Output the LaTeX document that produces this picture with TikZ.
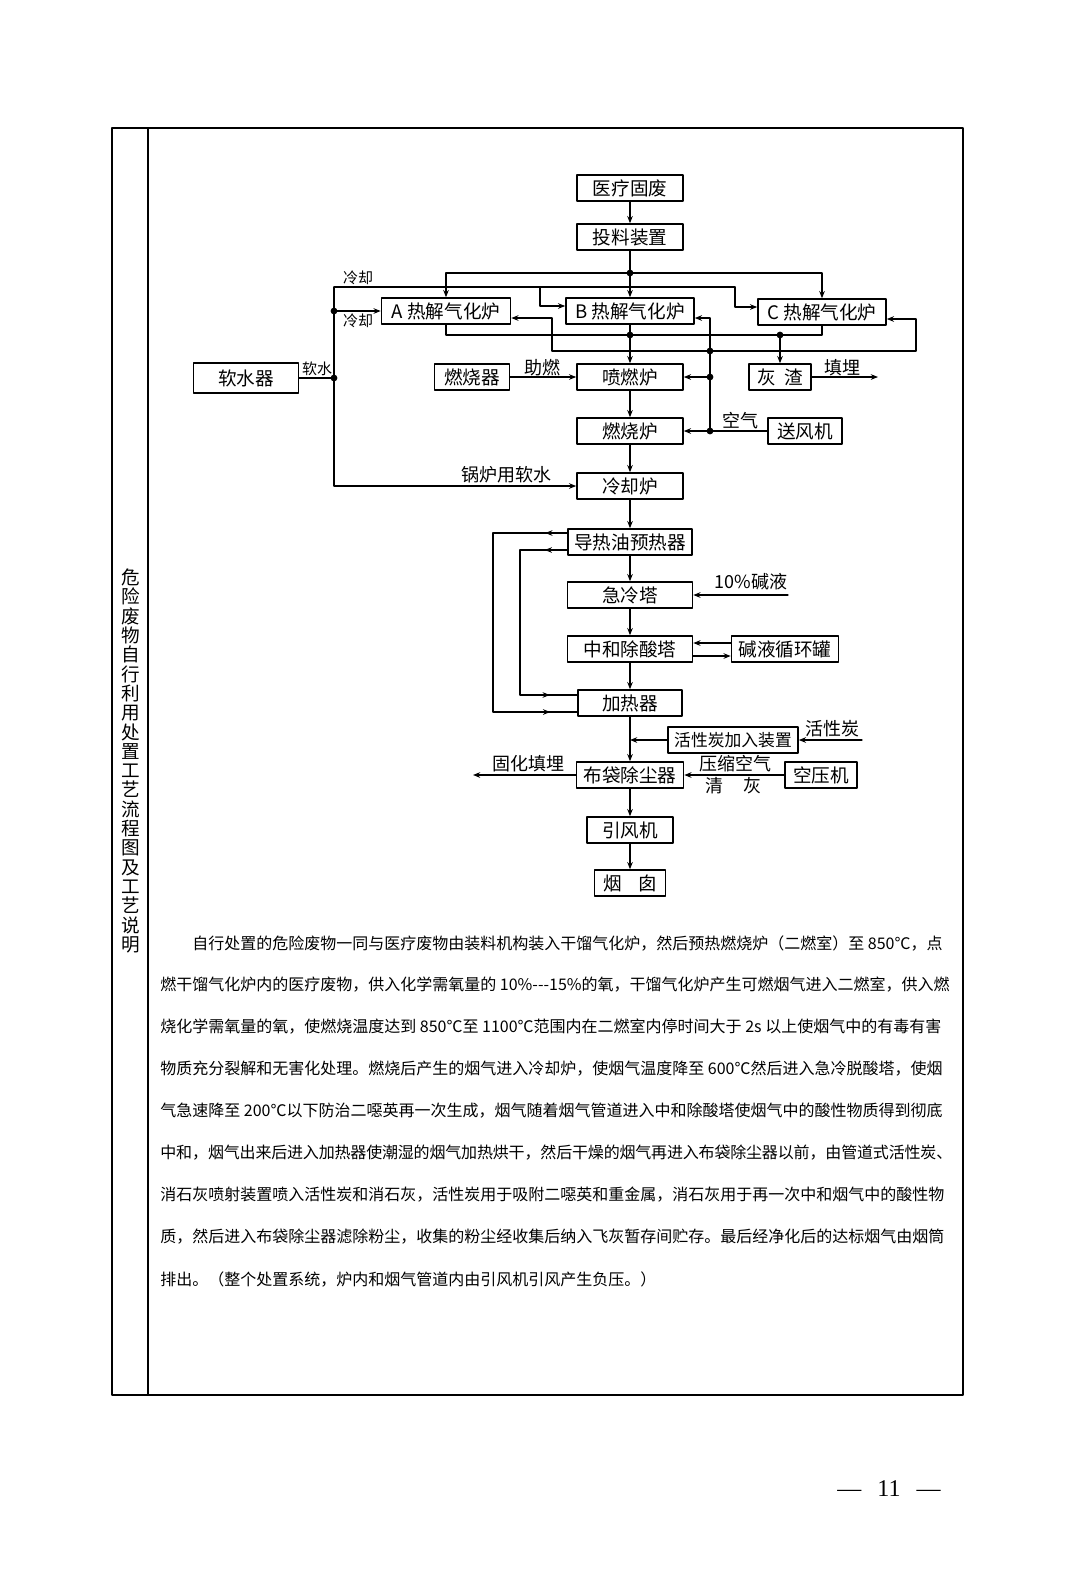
\documentclass[tikz,border=0pt]{standalone}
\usepackage{fontspec}
\setmainfont{Noto Sans CJK SC}
\newfontfamily\pagenofont{Liberation Serif}
\usetikzlibrary{arrows.meta,decorations.markings}
\XeTeXlinebreaklocale "zh"
\XeTeXlinebreakskip=0pt plus 1.5pt minus .3pt

\begin{document}
\begin{tikzpicture}[x=0.5pt,y=-0.5pt,>={Stealth[length=3.6pt,width=2.8pt]},
    line cap=round,line join=round,
    box/.style={draw,line width=.8pt,inner sep=0pt,minimum height=13pt,
      font=\fontsize{9.3}{11}\selectfont},
    flow/.style={line width=.6pt},
    lbl/.style={inner sep=0pt,font=\fontsize{9}{10}\selectfont},
    lblsmall/.style={inner sep=0pt,font=\fontsize{7.5}{9}\selectfont},
    oilpipe/.style 2 args={flow,postaction={decorate},decoration={markings,
      mark=at position #1 with {\arrow{>}},
      mark=at position #2 with {\arrow{>}}}},
    bodyline/.style={anchor=west,inner sep=0pt,text width=396pt,align=justify,
      font=\fontsize{8}{10}\selectfont}]
    \useasboundingbox (0,0) rectangle (1080,1571);
    \fill[white] (0,0) rectangle (1080,1571);

    % Page frame and the side column with the title.
    \draw[line width=1.2pt] (112,128) rectangle (963,1395);
    \draw[line width=.8pt] (148,128) -- (148,1395);
    \node[inner sep=0pt,align=center,font=\fontsize{9.3}{9.65}\selectfont] (title)
      at (131,761) {危\\险\\废\\物\\自\\行\\利\\用\\处\\置\\工\\艺\\流\\程\\图\\及\\工\\艺\\说\\明};

    % Boxes of the process.
    \node[box,minimum width=53pt] (gufei) at (630,188) {医疗固废};
    \node[box,minimum width=53pt] (touliao) at (630,237) {投料装置};
    \node[box,minimum width=64.5pt] (lua) at (446,311) {A 热解气化炉};
    \node[box,minimum width=64pt] (lub) at (630,311) {B 热解气化炉};
    \node[box,minimum width=64pt] (luc) at (822,312) {C 热解气化炉};
    \node[box,minimum width=52.5pt,minimum height=15pt] (ruanshui) at (246,378) {软水器};
    \node[box,minimum width=37.5pt] (ranshaoqi) at (472,377) {燃烧器};
    \node[box,minimum width=53pt] (penran) at (630,377) {喷燃炉};
    \node[box,minimum width=31pt] (huizha) at (780,377) {灰\hspace{4pt}渣};
    \node[box,minimum width=53pt] (ranshao) at (630,431) {燃烧炉};
    \node[box,minimum width=37pt] (songfeng) at (805,431) {送风机};
    \node[box,minimum width=53pt] (lengque) at (630,486) {冷却炉};
    \node[box,minimum width=62pt] (daore) at (630,542) {导热油预热器};
    \node[box,minimum width=62.5pt] (jileng) at (630,595) {急冷塔};
    \node[box,minimum width=62.5pt] (zhonghe) at (630,649) {中和除酸塔};
    \node[box,minimum width=53.5pt] (jianye) at (785,649) {碱液循环罐};
    \node[box,minimum width=52pt] (jiare) at (630,703) {加热器};
    \node[box,minimum width=65pt,font=\fontsize{8.4}{10}\selectfont] (huoxing)
      at (733,740) {活性炭加入装置};
    \node[box,minimum width=53.5pt] (budai) at (630,775) {布袋除尘器};
    \node[box,minimum width=36pt] (kongya) at (821,775) {空压机};
    \node[box,minimum width=43pt] (yinfeng) at (630,830) {引风机};
    \node[box,minimum width=35.5pt] (yancong) at (630,883) {烟\hspace{8pt}囱};

    % Labels on the lines.
    \node[lblsmall] (lbcool1) at (358,278) {冷却};
    \node[lblsmall] (lbcool2) at (358,321) {冷却};
    \node[lblsmall] (lbsoft) at (317,369) {软水};
    \node[lbl] (lbaid) at (542,368) {助燃};
    \node[lbl] (lbbury) at (842,368) {填埋};
    \node[lbl] (lbair) at (740,421) {空气};
    \node[lbl] (lbboiler) at (506,475) {锅炉用软水};
    \node[lbl] (lblye) at (751,582) {10\%碱液};
    \node[lbl] (lbcarbon) at (832,729) {活性炭};
    \node[lbl] (lbsolid) at (528,764) {固化填埋};
    \node[lbl] (lbpress) at (735,764) {压缩空气};
    \node[lbl] (lbclean) at (733,786) {清\hspace{10pt}灰};

    % Branch points and free ends.
    \coordinate (feed) at (630,273);
    \coordinate (cw) at (334,287);
    \coordinate (cwa) at (334,311);
    \coordinate (sw) at (334,378);
    \coordinate (cwb) at (334,486);
    \coordinate (cwk1) at (540,287);
    \coordinate (cwk2) at (735,287);
    \coordinate (slag) at (630,335);
    \coordinate (slagc) at (780,335);
    \coordinate (airr) at (710,351);
    \coordinate (airp) at (710,377);
    \coordinate (aira) at (710,431);
    \coordinate (retl) at (552,351);
    \coordinate (retr) at (916,351);
    \coordinate (bury) at (878,377);
    \coordinate (lye) at (788,595);
    \coordinate (oilo) at (493,620);
    \coordinate (oili) at (520,620);
    \coordinate (carbon) at (630,740);
    \coordinate (carbonin) at (862,740);
    \coordinate (solid) at (473,775);

    % Feed to the three gasifiers.
    \draw[flow,->] (gufei) -- (touliao);
    \draw[flow] (touliao) -- (feed);
    \draw[flow,->] (feed) -- (lub);
    \draw[flow,->] (feed) -| (lua.north);
    \draw[flow,->] (feed) -| (luc.north);

    % Soft water for cooling and for the boiler.
    \draw[flow] (ruanshui) -- (sw);
    \draw[flow,->] (cw) -- (cwb) -- (lengque);
    \draw[flow,->] (cwa) -- (lua.west);
    \draw[flow] (cw) -- (cwk2);
    \draw[flow,->] (cwk1) |- ([yshift=2.5pt]lub.west);
    \draw[flow,->] (cwk2) |- ([yshift=2.5pt]luc.west);

    % Gas and slag out of the gasifiers.
    \draw[flow] (lub) -- (slag);
    \draw[flow] (lua.south) |- (slag) -- (slagc) -| (luc.south);
    \draw[flow,->] (slag) -- (penran);
    \draw[flow,->] (slagc) -- (huizha);
    \draw[flow,->] (huizha) -- (bury);
    \draw[flow,->] (ranshaoqi) -- (penran);

    % Air from the blower.
    \draw[flow,->] (songfeng) -- (ranshao);
    \draw[flow,->] (aira) |- ([yshift=-3.5pt]lub.east);
    \draw[flow,->] (airp) -- (penran);
    \draw[flow,->] (airr) -- (retl) |- ([yshift=-3.5pt]lua.east);
    \draw[flow,->] (airr) -- (retr) |- ([yshift=-3.5pt]luc.east);

    % Flue gas line.
    \draw[flow,->] (penran) -- (ranshao);
    \draw[flow,->] (ranshao) -- (lengque);
    \draw[flow,->] (lengque) -- (daore);
    \draw[flow,->] (daore) -- (jileng);
    \draw[flow,->] (jileng) -- (zhonghe);
    \draw[flow,->] (zhonghe) -- (jiare);
    \draw[flow,->] (jiare) -- (budai);
    \draw[flow,->] (budai) -- (yinfeng);
    \draw[flow,->] (yinfeng) -- (yancong);
    \draw[flow,->] (lye) -- (jileng);
    \draw[flow,->] ([yshift=3pt]jianye.west) -- ([yshift=3pt]zhonghe.east);
    \draw[flow,->] ([yshift=-3.5pt]zhonghe.east) -- ([yshift=-3.5pt]jianye.west);
    \draw[flow,->] (huoxing) -- (carbon);
    \draw[flow,->] (carbonin) -- (huoxing);
    \draw[flow,->] (budai) -- (solid);
    \draw[flow,->] (kongya) -- (budai);

    % Thermal oil loops between preheater and heater.
    \draw[oilpipe={.065}{.92}] ([yshift=4.5pt]daore.west) -| (oilo)
      |- ([yshift=-4.5pt]jiare.west);
    \draw[oilpipe={.09}{.89}] ([yshift=-4pt]daore.west) -| (oili)
      |- ([yshift=4pt]jiare.west);

    \fill (feed) circle (1.7pt) (cwa) circle (1.7pt) (sw) circle (1.7pt)
      (slag) circle (1.7pt) (slagc) circle (1.7pt) (airr) circle (1.7pt)
      (airp) circle (1.7pt) (aira) circle (1.7pt);

    % Description text.
    \node[bodyline,text width=380pt] (par1) at (192,943) {\parfillskip=0pt 自行处置的危险废物一同与医疗废物由装料机构装入干馏气化炉，然后预热燃烧炉（二燃室）至 850℃，点};
    \node[bodyline] (par2) at (160,985) {\parfillskip=0pt 燃干馏气化炉内的医疗废物，供入化学需氧量的 10\%-{}-{}-15\%的氧，干馏气化炉产生可燃烟气进入二燃室，供入燃};
    \node[bodyline] (par3) at (160,1027) {\parfillskip=0pt 烧化学需氧量的氧，使燃烧温度达到 850℃至 1100℃范围内在二燃室内停时间大于 2s 以上使烟气中的有毒有害};
    \node[bodyline] (par4) at (160,1069) {\parfillskip=0pt 物质充分裂解和无害化处理。燃烧后产生的烟气进入冷却炉，使烟气温度降至 600℃然后进入急冷脱酸塔，使烟};
    \node[bodyline] (par5) at (160,1111) {\parfillskip=0pt 气急速降至 200℃以下防治二噁英再一次生成，烟气随着烟气管道进入中和除酸塔使烟气中的酸性物质得到彻底};
    \node[bodyline] (par6) at (160,1153) {\parfillskip=0pt 中和，烟气出来后进入加热器使潮湿的烟气加热烘干，然后干燥的烟气再进入布袋除尘器以前，由管道式活性炭、};
    \node[bodyline] (par7) at (160,1195) {\parfillskip=0pt 消石灰喷射装置喷入活性炭和消石灰，活性炭用于吸附二噁英和重金属，消石灰用于再一次中和烟气中的酸性物};
    \node[bodyline] (par8) at (160,1237) {\parfillskip=0pt 质，然后进入布袋除尘器滤除粉尘，收集的粉尘经收集后纳入飞灰暂存间贮存。最后经净化后的达标烟气由烟筒};
    \node[bodyline,align=left] (par9) at (160,1279) {排出。（整个处置系统，炉内和烟气管道内由引风机引风产生负压。）};

    % Page number.
    \node[inner sep=0pt,font=\pagenofont\fontsize{12}{14}\selectfont] (pageno)
      at (889,1489) {—\hspace{8pt}11\hspace{8pt}—};
  \end{tikzpicture}
\end{document}
